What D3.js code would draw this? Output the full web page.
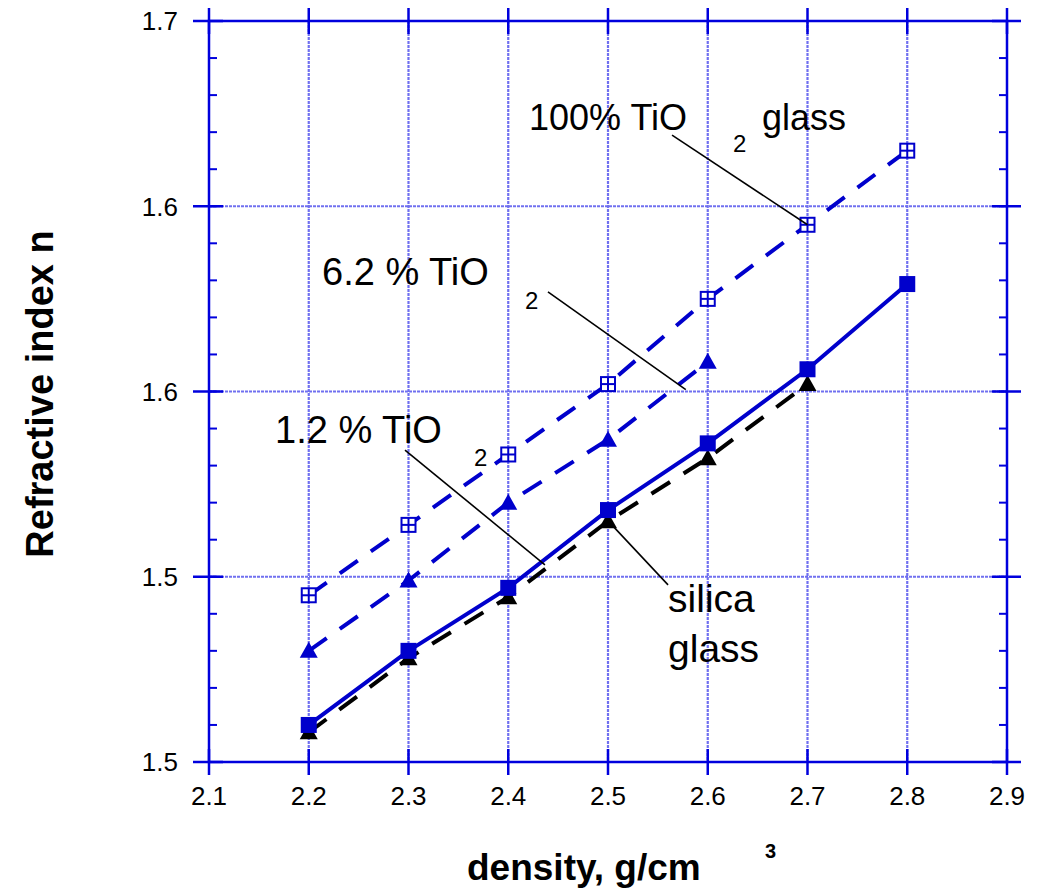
<!DOCTYPE html>
<html>
<head>
<meta charset="utf-8">
<script src="https://cdn.jsdelivr.net/npm/d3@7"></script>
<style>
  html, body { margin: 0; padding: 0; background: #fff; }
  svg { display: block; font-family: Arial, "Liberation Sans", sans-serif; }
</style>
</head>
<body>
<svg id="chart" width="1053" height="890"></svg>
<script>
// ---- data ----
const density = [2.2, 2.3, 2.4, 2.5, 2.6, 2.7, 2.8];
const tio2_100 = [1.495, 1.514, 1.533, 1.552, 1.575, 1.595, 1.615];
const tio2_62  = [1.480, 1.499, 1.520, 1.537, 1.558];
const tio2_12  = [1.460, 1.480, 1.497, 1.518, 1.536, 1.556, 1.579];
const silica   = [1.458, 1.478, 1.4945, 1.515, 1.532, 1.552];

const xTickValues = [2.1, 2.2, 2.3, 2.4, 2.5, 2.6, 2.7, 2.8, 2.9];
const xTickLabels = ["2.1", "2.2", "2.3", "2.4", "2.5", "2.6", "2.7", "2.8", "2.9"];
const yTickValues = [1.45, 1.50, 1.55, 1.60, 1.65];
const yTickLabels = ["1.5", "1.5", "1.6", "1.6", "1.7"];
const yMinorValues = d3.range(1.45, 1.6501, 0.01);

const xTitle = "density, g/cm";
const xTitleSup = "3";
const yTitle = "Refractive index n";

// annotations (data coordinates)
const annotations = [
  { parts: [{t: "100% TiO", x: 2.4208, y: 1.6206, size: 36},
            {t: "2", x: 2.6253, y: 1.6146, size: 24},
            {t: "glass", x: 2.6544, y: 1.6206, size: 36}],
    leader: [[2.5642, 1.6192], [2.7, 1.595]] },
  { parts: [{t: "6.2 % TiO", x: 2.2133, y: 1.5787, size: 38},
            {t: "2", x: 2.4168, y: 1.5722, size: 24}],
    leader: [[2.4398, 1.5769], [2.578, 1.5505]] },
  { parts: [{t: "1.2 % TiO", x: 2.1662, y: 1.5361, size: 38},
            {t: "2", x: 2.3657, y: 1.5299, size: 24}],
    leader: [[2.2965, 1.5342], [2.4368, 1.5032]] },
  { parts: [{t: "silica", x: 2.5602, y: 1.4905, size: 39},
            {t: "glass", x: 2.5602, y: 1.477, size: 39}],
    leader: [[2.501, 1.5148], [2.5602, 1.4978]] }
];

// ---- layout ----
const svg = d3.select("#chart");
const x = d3.scaleLinear().domain([2.1, 2.9]).range([209, 1007]);
const y = d3.scaleLinear().domain([1.45, 1.65]).range([762, 21]);

const axisBlue = "#0000dd";
const markBlue = "#0000cc";
const gridBlue = "#7070f0";

// grid
const grid = svg.append("g");
grid.selectAll("line.vx").data(xTickValues.slice(1, -1)).enter().append("line")
  .attr("x1", d => x(d)).attr("x2", d => x(d))
  .attr("y1", y(1.65)).attr("y2", y(1.45))
  .attr("stroke", gridBlue).attr("stroke-width", 2.2).attr("stroke-dasharray", "3,1");
grid.selectAll("line.hy").data(yTickValues.slice(1, -1)).enter().append("line")
  .attr("y1", d => y(d)).attr("y2", d => y(d))
  .attr("x1", x(2.1)).attr("x2", x(2.9))
  .attr("stroke", gridBlue).attr("stroke-width", 2.2).attr("stroke-dasharray", "3,1");

// series
const series = [
  { vals: silica,   color: "#000000", dash: "22,16", marker: "triangle" },
  { vals: tio2_100, color: markBlue,  dash: "22,16", marker: "crossbox" },
  { vals: tio2_62,  color: markBlue,  dash: "22,16", marker: "triangle" },
  { vals: tio2_12,  color: markBlue,  dash: null,    marker: "square" }
];

const line = d3.line().x(d => x(d[0])).y(d => y(d[1]));

series.forEach(s => {
  const pts = s.vals.map((v, i) => [density[i], v]);
  svg.append("path").datum(pts)
    .attr("d", line)
    .attr("fill", "none")
    .attr("stroke", s.color)
    .attr("stroke-width", 4)
    .attr("stroke-dasharray", s.dash)
    .attr("stroke-linecap", "butt");
  const g = svg.append("g");
  pts.forEach(p => {
    const cx = x(p[0]), cy = y(p[1]);
    if (s.marker === "square") {
      g.append("rect").attr("x", cx - 8).attr("y", cy - 8)
        .attr("width", 16).attr("height", 16).attr("fill", s.color);
    } else if (s.marker === "triangle") {
      g.append("path")
        .attr("d", `M${cx},${cy - 9}L${cx + 9},${cy + 7}L${cx - 9},${cy + 7}Z`)
        .attr("fill", s.color);
    } else {
      g.append("rect").attr("x", cx - 7).attr("y", cy - 7)
        .attr("width", 14).attr("height", 14)
        .attr("fill", "#fff").attr("stroke", s.color).attr("stroke-width", 2);
      g.append("line").attr("x1", cx - 7).attr("x2", cx + 7).attr("y1", cy).attr("y2", cy)
        .attr("stroke", s.color).attr("stroke-width", 2);
      g.append("line").attr("x1", cx).attr("x2", cx).attr("y1", cy - 7).attr("y2", cy + 7)
        .attr("stroke", s.color).attr("stroke-width", 2);
    }
  });
});

// frame
const frame = svg.append("g").attr("stroke", axisBlue).attr("stroke-width", 2.5);
frame.append("rect").attr("x", x(2.1)).attr("y", y(1.65))
  .attr("width", x(2.9) - x(2.1)).attr("height", y(1.45) - y(1.65))
  .attr("fill", "none");

// x ticks (top & bottom, crossing)
xTickValues.forEach(v => {
  frame.append("line").attr("x1", x(v)).attr("x2", x(v))
    .attr("y1", y(1.45) - 13).attr("y2", y(1.45) + 13);
  frame.append("line").attr("x1", x(v)).attr("x2", x(v))
    .attr("y1", y(1.65) - 13).attr("y2", y(1.65) + 13);
});
// y major ticks
yTickValues.forEach(v => {
  frame.append("line").attr("y1", y(v)).attr("y2", y(v))
    .attr("x1", x(2.1) - 16).attr("x2", x(2.1) + 14);
  frame.append("line").attr("y1", y(v)).attr("y2", y(v))
    .attr("x1", x(2.9) - 15).attr("x2", x(2.9) + 14);
});
// y minor ticks (inside)
yMinorValues.forEach(v => {
  frame.append("line").attr("y1", y(v)).attr("y2", y(v))
    .attr("x1", x(2.1)).attr("x2", x(2.1) + 8).attr("stroke-width", 2);
  frame.append("line").attr("y1", y(v)).attr("y2", y(v))
    .attr("x1", x(2.9) - 8).attr("x2", x(2.9)).attr("stroke-width", 2);
});

// tick labels
svg.append("g").selectAll("text").data(xTickValues).enter().append("text")
  .attr("x", d => x(d)).attr("y", 805)
  .attr("text-anchor", "middle").attr("font-size", 26).attr("fill", "#000")
  .text((d, i) => xTickLabels[i]);
svg.append("g").selectAll("text").data(yTickValues).enter().append("text")
  .attr("x", 178).attr("y", d => y(d)).attr("dy", "0.36em")
  .attr("text-anchor", "end").attr("font-size", 26).attr("fill", "#000")
  .text((d, i) => yTickLabels[i]);

// axis titles
svg.append("text").attr("x", 467).attr("y", 880)
  .attr("font-size", 37).attr("font-weight", "bold").text(xTitle);
svg.append("text").attr("x", 765).attr("y", 858)
  .attr("font-size", 20).attr("font-weight", "bold").text(xTitleSup);
svg.append("text")
  .attr("transform", "translate(53,394) rotate(-90)")
  .attr("text-anchor", "middle")
  .attr("font-size", 38).attr("font-weight", "bold").text(yTitle);

// annotations
annotations.forEach(a => {
  svg.append("line")
    .attr("x1", x(a.leader[0][0])).attr("y1", y(a.leader[0][1]))
    .attr("x2", x(a.leader[1][0])).attr("y2", y(a.leader[1][1]))
    .attr("stroke", "#000").attr("stroke-width", 1.6);
  a.parts.forEach(p => {
    svg.append("text").attr("x", x(p.x)).attr("y", y(p.y))
      .attr("font-size", p.size).attr("fill", "#000").text(p.t);
  });
});
</script>
</body>
</html>
